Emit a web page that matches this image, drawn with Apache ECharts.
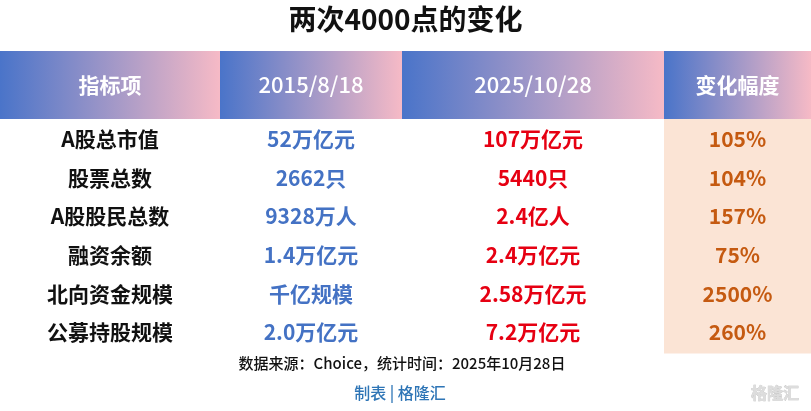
<!DOCTYPE html>
<html><head><meta charset="utf-8">
<script src="https://cdn.jsdelivr.net/npm/echarts@6/dist/echarts.min.js"></script>
<style>html,body{margin:0;padding:0;background:#fff}#c{width:811px;height:411px}</style>
</head><body><div id="c"></div>
<script>
const title = '两次4000点的变化';
const headers = ['指标项', '2015/8/18', '2025/10/28', '变化幅度'];
const items = ['A股总市值', '股票总数', 'A股股民总数', '融资余额', '北向资金规模', '公募持股规模'];
const vals2015 = ['52万亿元', '2662只', '9328万人', '1.4万亿元', '千亿规模', '2.0万亿元'];
const vals2025 = ['107万亿元', '5440只', '2.4亿人', '2.4万亿元', '2.58万亿元', '7.2万亿元'];
const changes = ['105%', '104%', '157%', '75%', '2500%', '260%'];
const source = '数据来源：Choice，统计时间：2025年10月28日';
const maker = '制表 | 格隆汇';

const F = '"Noto Sans CJK SC", sans-serif';
const colX = [0, 220, 402, 664, 811];
const headTop = 51, headBot = 119, rowH = 38.6, rowTop = 120;
const colColors = ['#111', '#4472c4', '#e60012', '#c55a11'];
const g = [];
g.push({type:'text', left:'center', top:5, style:{text:title, font:'bold 28px '+F, fill:'#111'}});
for (let i=0;i<4;i++){
  g.push({type:'rect', shape:{x:colX[i], y:headTop, width:colX[i+1]-colX[i], height:headBot-headTop},
    style:{fill:new echarts.graphic.LinearGradient(0,0,1,0,[{offset:0,color:'#4a74c9'},{offset:1,color:'#f6bac6'}])}});
  g.push({type:'text', x:(colX[i]+colX[i+1])/2, y:(headTop+headBot)/2,
    style:{text:headers[i], font:(i==1||i==2?'500 22px ':'bold 21px ')+F, fill:'#fff', align:'center', verticalAlign:'middle'}});
}
g.push({type:'rect', shape:{x:colX[3], y:headBot, width:colX[4]-colX[3], height:rowH*items.length+3}, style:{fill:'#fbe4d5'}});
const cols = [items, vals2015, vals2025, changes];
for (let r=0;r<items.length;r++){
  for (let c=0;c<4;c++){
    g.push({type:'text', x:(colX[c]+colX[c+1])/2, y:rowTop+rowH*(r+0.5),
      style:{text:cols[c][r], font:'bold 21px '+F, fill:colColors[c], align:'center', verticalAlign:'middle'}});
  }
}
g.push({type:'text', x:402, y:363, style:{text:source, font:'500 15px '+F, fill:'#111', align:'center', verticalAlign:'middle'}});
g.push({type:'text', x:400, y:393, style:{text:maker, font:'500 16px '+F, fill:'#2e75b6', align:'center', verticalAlign:'middle'}});
g.push({type:'text', x:775, y:393, style:{text:'格隆汇', font:'bold 16px '+F, fill:'#ddd', stroke:'#bbb', lineWidth:0.5, align:'center', verticalAlign:'middle'}});
const chart = echarts.init(document.getElementById('c'));
chart.setOption({animation:false, graphic:g});
</script></body></html>
